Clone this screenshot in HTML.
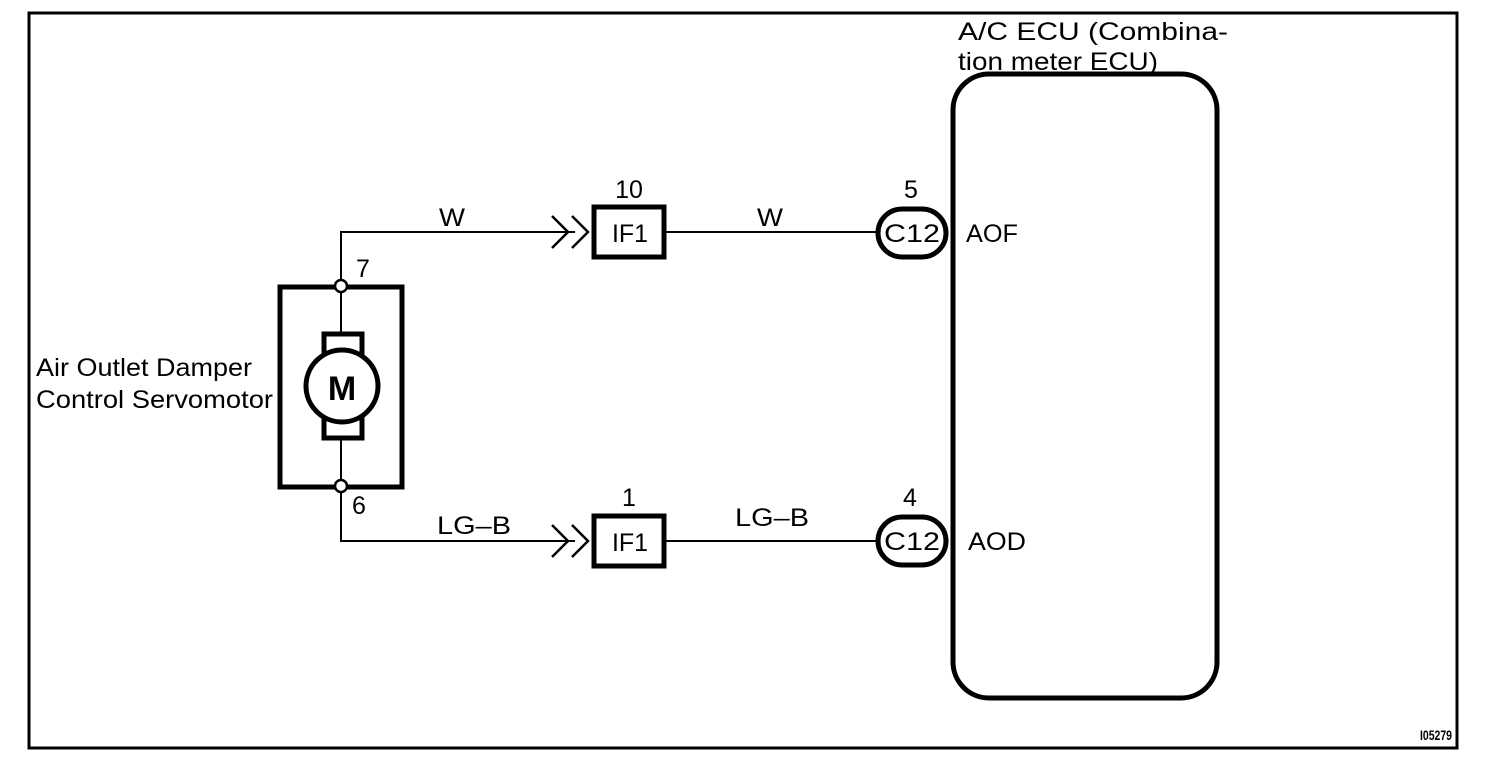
<!DOCTYPE html>
<html><head><style>html,body{margin:0;padding:0;background:#fff}svg{display:block}</style></head>
<body>
<svg width="1504" height="768" viewBox="0 0 1504 768" xmlns="http://www.w3.org/2000/svg" font-family="Liberation Sans, Arial, sans-serif" fill="none" stroke="#000">
<rect x="29" y="13" width="1428" height="735" stroke-width="3"/>
<rect x="953" y="74" width="264" height="624" rx="36" ry="36" stroke-width="5"/>
<rect x="280" y="287" width="122" height="200" stroke-width="5"/>
<polyline points="341,286 341,232 575,232" stroke-width="2"/>
<polyline points="341,486 341,541 575,541" stroke-width="2"/>
<polyline points="552,216 568,232 552,248" stroke-width="2.5"/>
<polyline points="572,216 588,232 572,248" stroke-width="2.5"/>
<polyline points="552,525 568,541 552,557" stroke-width="2.5"/>
<polyline points="572,525 588,541 572,557" stroke-width="2.5"/>
<line x1="665" y1="232" x2="878" y2="232" stroke-width="2"/>
<line x1="665" y1="541" x2="878" y2="541" stroke-width="2"/>
<rect x="594" y="207" width="70" height="50" stroke-width="5"/>
<rect x="594" y="516" width="70" height="50" stroke-width="5"/>
<rect x="878" y="209" width="68" height="48" rx="24" stroke-width="5"/>
<rect x="878" y="517" width="68" height="48" rx="24" stroke-width="5"/>
<line x1="341" y1="292" x2="341" y2="334" stroke-width="2"/>
<line x1="341" y1="440" x2="341" y2="481" stroke-width="2"/>
<rect x="324" y="334" width="38" height="20" stroke-width="5"/>
<rect x="324" y="418" width="38" height="20" stroke-width="5"/>
<circle cx="342" cy="386" r="36" stroke-width="5" fill="#fff"/>
<circle cx="341" cy="286" r="6" stroke-width="2.5" fill="#fff"/>
<circle cx="341" cy="486" r="6" stroke-width="2.5" fill="#fff"/>
<g fill="#000" stroke="none" font-size="25">
<text x="342" y="400" font-size="34" font-weight="bold" text-anchor="middle">M</text>
<text x="36" y="376" textLength="216" lengthAdjust="spacingAndGlyphs">Air Outlet Damper</text>
<text x="36" y="408" textLength="237" lengthAdjust="spacingAndGlyphs">Control Servomotor</text>
<text x="356" y="277">7</text>
<text x="352" y="514">6</text>
<text x="439" y="226" textLength="26" lengthAdjust="spacingAndGlyphs">W</text>
<text x="437" y="534" textLength="74" lengthAdjust="spacingAndGlyphs">LG–B</text>
<text x="612" y="242" textLength="36" lengthAdjust="spacingAndGlyphs">IF1</text>
<text x="612" y="551" textLength="36" lengthAdjust="spacingAndGlyphs">IF1</text>
<text x="629" y="198" text-anchor="middle">10</text>
<text x="629" y="506" text-anchor="middle">1</text>
<text x="757" y="226" textLength="26" lengthAdjust="spacingAndGlyphs">W</text>
<text x="735" y="526" textLength="74" lengthAdjust="spacingAndGlyphs">LG–B</text>
<text x="884" y="242" textLength="56" lengthAdjust="spacingAndGlyphs">C12</text>
<text x="884" y="550" textLength="56" lengthAdjust="spacingAndGlyphs">C12</text>
<text x="911" y="198" text-anchor="middle">5</text>
<text x="910" y="506" text-anchor="middle">4</text>
<text x="966" y="242" textLength="52" lengthAdjust="spacingAndGlyphs">AOF</text>
<text x="968" y="550" textLength="58" lengthAdjust="spacingAndGlyphs">AOD</text>
<text x="958" y="40" textLength="270" lengthAdjust="spacingAndGlyphs">A/C ECU (Combina-</text>
<text x="958" y="70" textLength="200" lengthAdjust="spacingAndGlyphs">tion meter ECU)</text>
<text x="1420" y="740" font-size="14" font-weight="bold" textLength="32" lengthAdjust="spacingAndGlyphs">I05279</text>
</g>
</svg>
</body></html>
